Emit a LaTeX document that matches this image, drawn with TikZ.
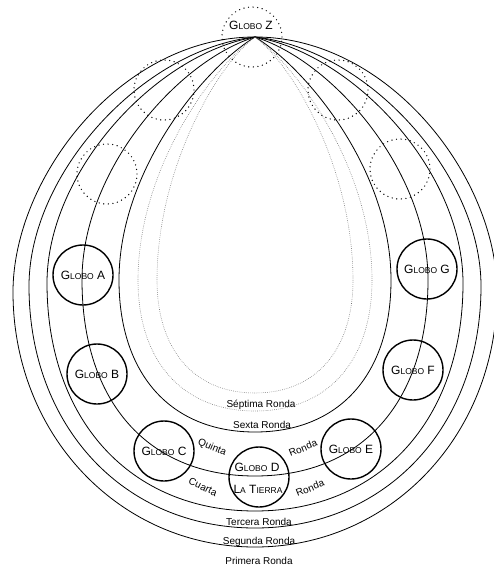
\documentclass[tikz,border=0pt]{standalone}
\usepackage{fontspec}
\setmainfont{Liberation Sans}
\newcommand\gsc[1]{{\fontsize{8.5}{10}\selectfont #1}}
\newcommand\glb[1]{{\fontsize{12}{14}\selectfont G\gsc{LOBO} #1}}
% #1 half width, #2 y of widest point, #3 bottom y, #4 alpha, #5 beta, #6 k, #7 style
\newcommand\egg[7]{%
\draw[#7] (apex) .. controls ({255-#4*#1},{37+#5*(#2-37)}) and ({255-#1},{#2-0.45*(#2-37)}) .. ({255-#1},#2)
 .. controls ({255-#1},{#2+#6*(#3-#2)}) and ({255-#6*#1},#3) .. (255,#3)
 .. controls ({255+#6*#1},#3) and ({255+#1},{#2+#6*(#3-#2)}) .. ({255+#1},#2)
 .. controls ({255+#1},{#2-0.45*(#2-37)}) and ({255+#4*#1},{37+#5*(#2-37)}) .. (apex);}
\begin{document}
\begin{tikzpicture}[x=1pt,y=-1pt,
 ronda/.style={line width=0.8pt},
 rondadot/.style={line width=0.6pt, black!55, dash pattern=on 0.6pt off 1.3pt},
 globe/.style={circle, draw, line width=1.4pt, minimum size=60pt, inner sep=0pt},
 ghost/.style={circle, draw, line width=1.4pt, dash pattern=on 0pt off 4.6pt, line cap=round, minimum size=60pt, inner sep=0pt},
 lbl/.style={font=\fontsize{10}{12}\selectfont, inner sep=1pt}]
\useasboundingbox (0,0) rectangle (493,569);
\coordinate (apex) at (255,37);
% rondas
\egg{242}{292}{547}{0.5523}{0}{0.56}{ronda}
\egg{226}{286}{528}{0.5}{0.05}{0.58}{ronda}
\egg{208}{283}{511}{0.48}{0.07}{0.6}{ronda}
\egg{173}{280}{476}{0.45}{0.1}{0.62}{ronda}
\egg{136}{280}{432}{0.38}{0.13}{0.62}{ronda}
\egg{117}{280}{411}{0.38}{0.13}{0.62}{rondadot}
\egg{98}{280}{393}{0.4}{0.12}{0.62}{rondadot}
% ghost balloons
\node[ghost] (Z) at (252,37) {};
\node[ghost] (g1) at (164,90) {};
\node[ghost] (g2) at (107,174) {};
\node[ghost] (g3) at (338,90) {};
\node[ghost] (g4) at (400,169) {};
\node (Zt) at (251,25) {\glb{Z}};
% balloons
\node[globe] (A) at (83,275) {\glb{A}};
\node[globe] (B) at (97,374) {\glb{B}};
\node[globe] (C) at (164,451) {\glb{C}};
\node[globe] (D) at (259,477) {};
\node[globe] (E) at (351,449) {\glb{E}};
\node[globe] (F) at (413,370) {\glb{F}};
\node[globe] (G) at (427,269) {\glb{G}};
\node (Dt) at (257,467) {\glb{D}};
\node (Lt) at (258,489) {{\fontsize{12}{14}\selectfont L\gsc{A} T\gsc{IERRA}}};
% labels
\node[lbl, rotate=-22] (q1) at (212,448) {Quinta};
\node[lbl, rotate=22] (q2) at (303,448) {Ronda};
\node[lbl, rotate=-25] (c1) at (203,487) {Cuarta};
\node[lbl, rotate=22] (c2) at (310,488) {Ronda};
\node[lbl] (r3) at (259,522) {Tercera Ronda};
\node[lbl] (r2) at (259,542) {Segunda Ronda};
\node[lbl] (r1) at (259,561) {Primera Ronda};
\node[lbl] (r6) at (262,425) {Sexta Ronda};
\node[lbl] (r7) at (261,405) {Séptima Ronda};
\end{tikzpicture}
\end{document}
